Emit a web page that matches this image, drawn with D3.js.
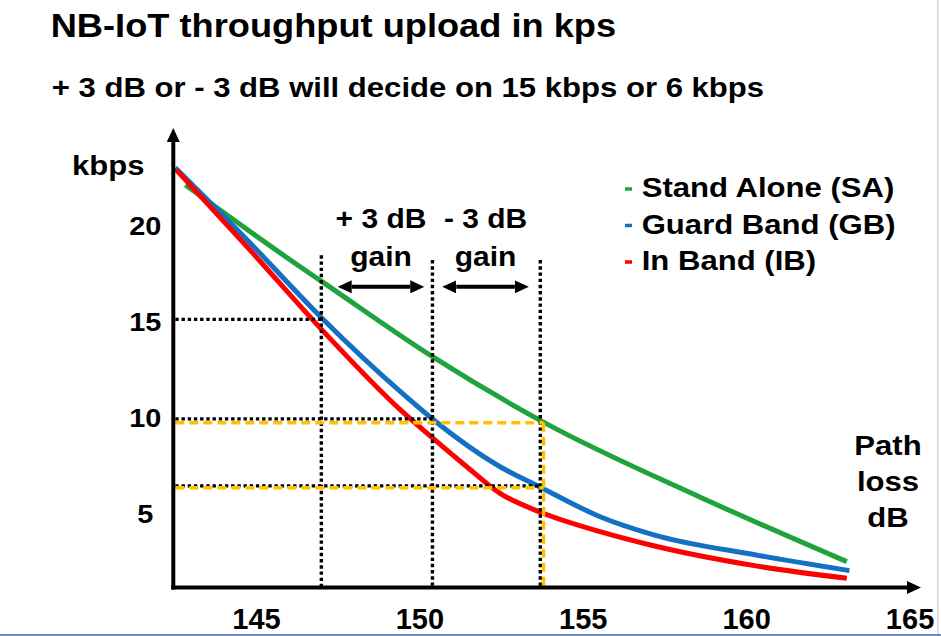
<!DOCTYPE html>
<html>
<head>
<meta charset="utf-8">
<script src="https://cdn.jsdelivr.net/npm/d3@7"></script>
<style>
  html, body { margin: 0; padding: 0; background: #fff; }
  svg text { font-family: "Liberation Sans", Arial, sans-serif; font-weight: bold; fill: #000; }
</style>
</head>
<body>
<div id="chart"></div>
<script>
// values: path loss (dB) against upload throughput (kbps)
const saLoss = [142.84, 146.35, 147.02, 150.40, 153.81, 158.58, 163.08]
const saKbps = [22.12, 17.85, 17.07, 13.15, 9.72, 5.82, 2.44]
const gbLoss = [142.53, 144.82, 147.02, 149.42, 150.41, 152.47, 153.67, 155.53, 157.2, 160.3, 163.16]
const gbKbps = [23.02, 19.09, 15.16, 11.32, 9.88, 7.40, 6.36, 4.79, 3.83, 2.79, 1.97]
const ibLoss = [142.56, 144.82, 147.02, 149.42, 150.41, 151.45, 152.47, 153.67, 155.53, 157.2, 160.3, 163.08]
const ibKbps = [22.91, 18.72, 14.55, 10.37, 8.89, 7.40, 6.01, 5.05, 4.01, 3.26, 2.22, 1.57]

const seriesNames = ['Stand Alone (SA)', 'Guard Band (GB)', 'In Band (IB)']
const seriesColors = ['#1fa33c', '#1470c2', '#ff0000']

const xTicks = [145, 150, 155, 160, 165]
const yTicks = [5, 10, 15, 20]

// dotted guides: verticals at these path losses, horizontals at these rates
const guideLoss = [147.0, 150.4, 153.7]
const guideTop = [18.45, 18.2, 18.2]
const guideKbps = [15.1, 9.9, 6.4]
// orange dashed guides
const orangeLoss = 153.8
const orangeKbps = [9.7, 6.3]
// gain arrows
const gainSpans = [[147.5, 150.15], [150.7, 153.35]]
const gainKbps = 16.8
const gainLabels = ['+ 3 dB', '- 3 dB']

const lossMin = 142.47, lossMax = 165.35
const kbpsMin = 1.09, kbpsMax = 25.1

const width = 941, height = 636
const SX = 1.11 // the slide is stretched sideways a little

const x = d3.scaleLinear().domain([lossMin, lossMax]).range([173.3, 921])
const y = d3.scaleLinear().domain([kbpsMin, kbpsMax]).range([587.5, 128])

const svg = d3.select('#chart').append('svg')
  .attr('width', width)
  .attr('height', height)
  .style('display', 'block')

svg.append('rect').attr('width', width).attr('height', height).attr('fill', '#fff')

const defs = svg.append('defs')
defs.append('marker')
  .attr('id', 'head')
  .attr('viewBox', '0 0 14 13')
  .attr('refX', 0).attr('refY', 6.5)
  .attr('markerWidth', 14).attr('markerHeight', 13)
  .attr('markerUnits', 'userSpaceOnUse')
  .attr('orient', 'auto-start-reverse')
  .append('path').attr('d', 'M0,0L14,6.5L0,13Z').attr('fill', '#000')

function label(g, txt, px, py, size, anchor, sx) {
  return g.append('text')
    .attr('transform', `translate(${px},${py}) scale(${sx},1)`)
    .attr('font-size', size)
    .attr('text-anchor', anchor)
    .text(txt)
}

// titles
label(svg, 'NB-IoT throughput upload in kps', 50.7, 37.3, 32.5, 'start', 1.115)
label(svg, '+ 3 dB or - 3 dB will decide on 15 kbps or 6 kbps', 51.7, 96.7, 28, 'start', SX)

// curves
const series = [
  d3.zip(saLoss, saKbps),
  d3.zip(gbLoss, gbKbps),
  d3.zip(ibLoss, ibKbps)
]
const line = d3.line()
  .x(d => x(d[0]))
  .y(d => y(d[1]))
  .curve(d3.curveMonotoneX)

svg.append('g').selectAll('path')
  .data(series)
  .enter().append('path')
  .attr('d', line)
  .attr('fill', 'none')
  .attr('stroke', (d, i) => seriesColors[i])
  .attr('stroke-width', 5)

// dotted black guides
const guides = svg.append('g')
  .attr('stroke', '#000')
  .attr('stroke-width', 3.4)
  .attr('stroke-dasharray', '3.4 2.8')
guides.selectAll('.gv')
  .data(guideLoss)
  .enter().append('line')
  .attr('class', 'gv')
  .attr('x1', d => x(d)).attr('x2', d => x(d))
  .attr('y1', (d, i) => y(guideTop[i])).attr('y2', y(kbpsMin))
guides.selectAll('.gh')
  .data(guideKbps)
  .enter().append('line')
  .attr('class', 'gh')
  .attr('x1', x(lossMin) + 2).attr('x2', (d, i) => x(guideLoss[i]))
  .attr('y1', d => y(d)).attr('y2', d => y(d))

// orange dashed guides
const orange = svg.append('g')
  .attr('stroke', '#ffc000')
  .attr('stroke-width', 3.4)
  .attr('stroke-dasharray', '9 5')
orange.selectAll('.oh')
  .data(orangeKbps)
  .enter().append('line')
  .attr('class', 'oh')
  .attr('x1', x(lossMin) + 2).attr('x2', x(orangeLoss))
  .attr('y1', d => y(d)).attr('y2', d => y(d))
orange.append('line')
  .attr('x1', x(orangeLoss)).attr('x2', x(orangeLoss))
  .attr('y1', y(orangeKbps[0])).attr('y2', y(kbpsMin))

// gain arrows and labels
const gain = svg.append('g')
gain.selectAll('line')
  .data(gainSpans)
  .enter().append('line')
  .attr('x1', d => x(d[0]) + 14).attr('x2', d => x(d[1]) - 14)
  .attr('y1', y(gainKbps)).attr('y2', y(gainKbps))
  .attr('stroke', '#000')
  .attr('stroke-width', 4)
  .attr('marker-start', 'url(#head)')
  .attr('marker-end', 'url(#head)')
gainSpans.forEach((s, i) => {
  const cx = (x(s[0]) + x(s[1])) / 2
  label(gain, gainLabels[i], cx, y(gainKbps) - 59, 27, 'middle', SX)
  label(gain, 'gain', cx, y(gainKbps) - 21, 27, 'middle', SX)
})

// axes with arrow heads
const axes = svg.append('g').attr('stroke', '#000').attr('stroke-width', 4)
axes.append('line')
  .attr('x1', x(lossMin) - 2).attr('x2', x(lossMax) - 14)
  .attr('y1', y(kbpsMin)).attr('y2', y(kbpsMin))
  .attr('marker-end', 'url(#head)')
axes.append('line')
  .attr('x1', x(lossMin)).attr('x2', x(lossMin))
  .attr('y1', y(kbpsMin) + 2).attr('y2', y(kbpsMax) + 14)
  .attr('marker-end', 'url(#head)')

const xAxis = svg.append('g')
  .attr('transform', `translate(0,${y(kbpsMin)})`)
  .call(d3.axisBottom(x).tickValues(xTicks).tickSize(0).tickFormat(d3.format('d')))
xAxis.select('.domain').remove()
xAxis.selectAll('text')
  .attr('y', 41.5).attr('dy', 0)
  .attr('font-size', 29)
  .attr('font-family', null)

const yAxis = svg.append('g')
  .attr('transform', `translate(${x(lossMin)},0)`)
  .call(d3.axisLeft(y).tickValues(yTicks).tickSize(0).tickFormat(d3.format('d')))
yAxis.select('.domain').remove()
yAxis.selectAll('text')
  .attr('x', 0).attr('dy', '0.36em')
  .attr('text-anchor', 'middle')
  .attr('transform', `translate(-28,0) scale(${SX},1)`)
  .attr('font-size', 26)
  .attr('font-family', null)
svg.selectAll('.tick text').style('font-weight', 'bold').style('fill', '#000')

// axis titles
label(svg, 'kbps', 108.3, 175, 28, 'middle', SX)
;['Path', 'loss', 'dB'].forEach((t, i) => label(svg, t, 888, 455 + i * 36, 28, 'middle', SX))

// legend
const legend = svg.append('g')
seriesNames.forEach((name, i) => {
  const by = 197 + i * 36.5
  legend.append('line')
    .attr('x1', 625).attr('x2', 632)
    .attr('y1', by - 8).attr('y2', by - 8)
    .attr('stroke', seriesColors[i])
    .attr('stroke-width', 3.5)
  label(legend, name, 641.7, by, 28, 'start', SX)
})

// slide frame edges
svg.append('rect').attr('x', 0).attr('y', 634).attr('width', width).attr('height', 2).attr('fill', '#6b8bbd')
svg.append('rect').attr('x', 937).attr('y', 0).attr('width', 1.5).attr('height', 634).attr('fill', '#d4d4d4')
</script>
</body>
</html>
